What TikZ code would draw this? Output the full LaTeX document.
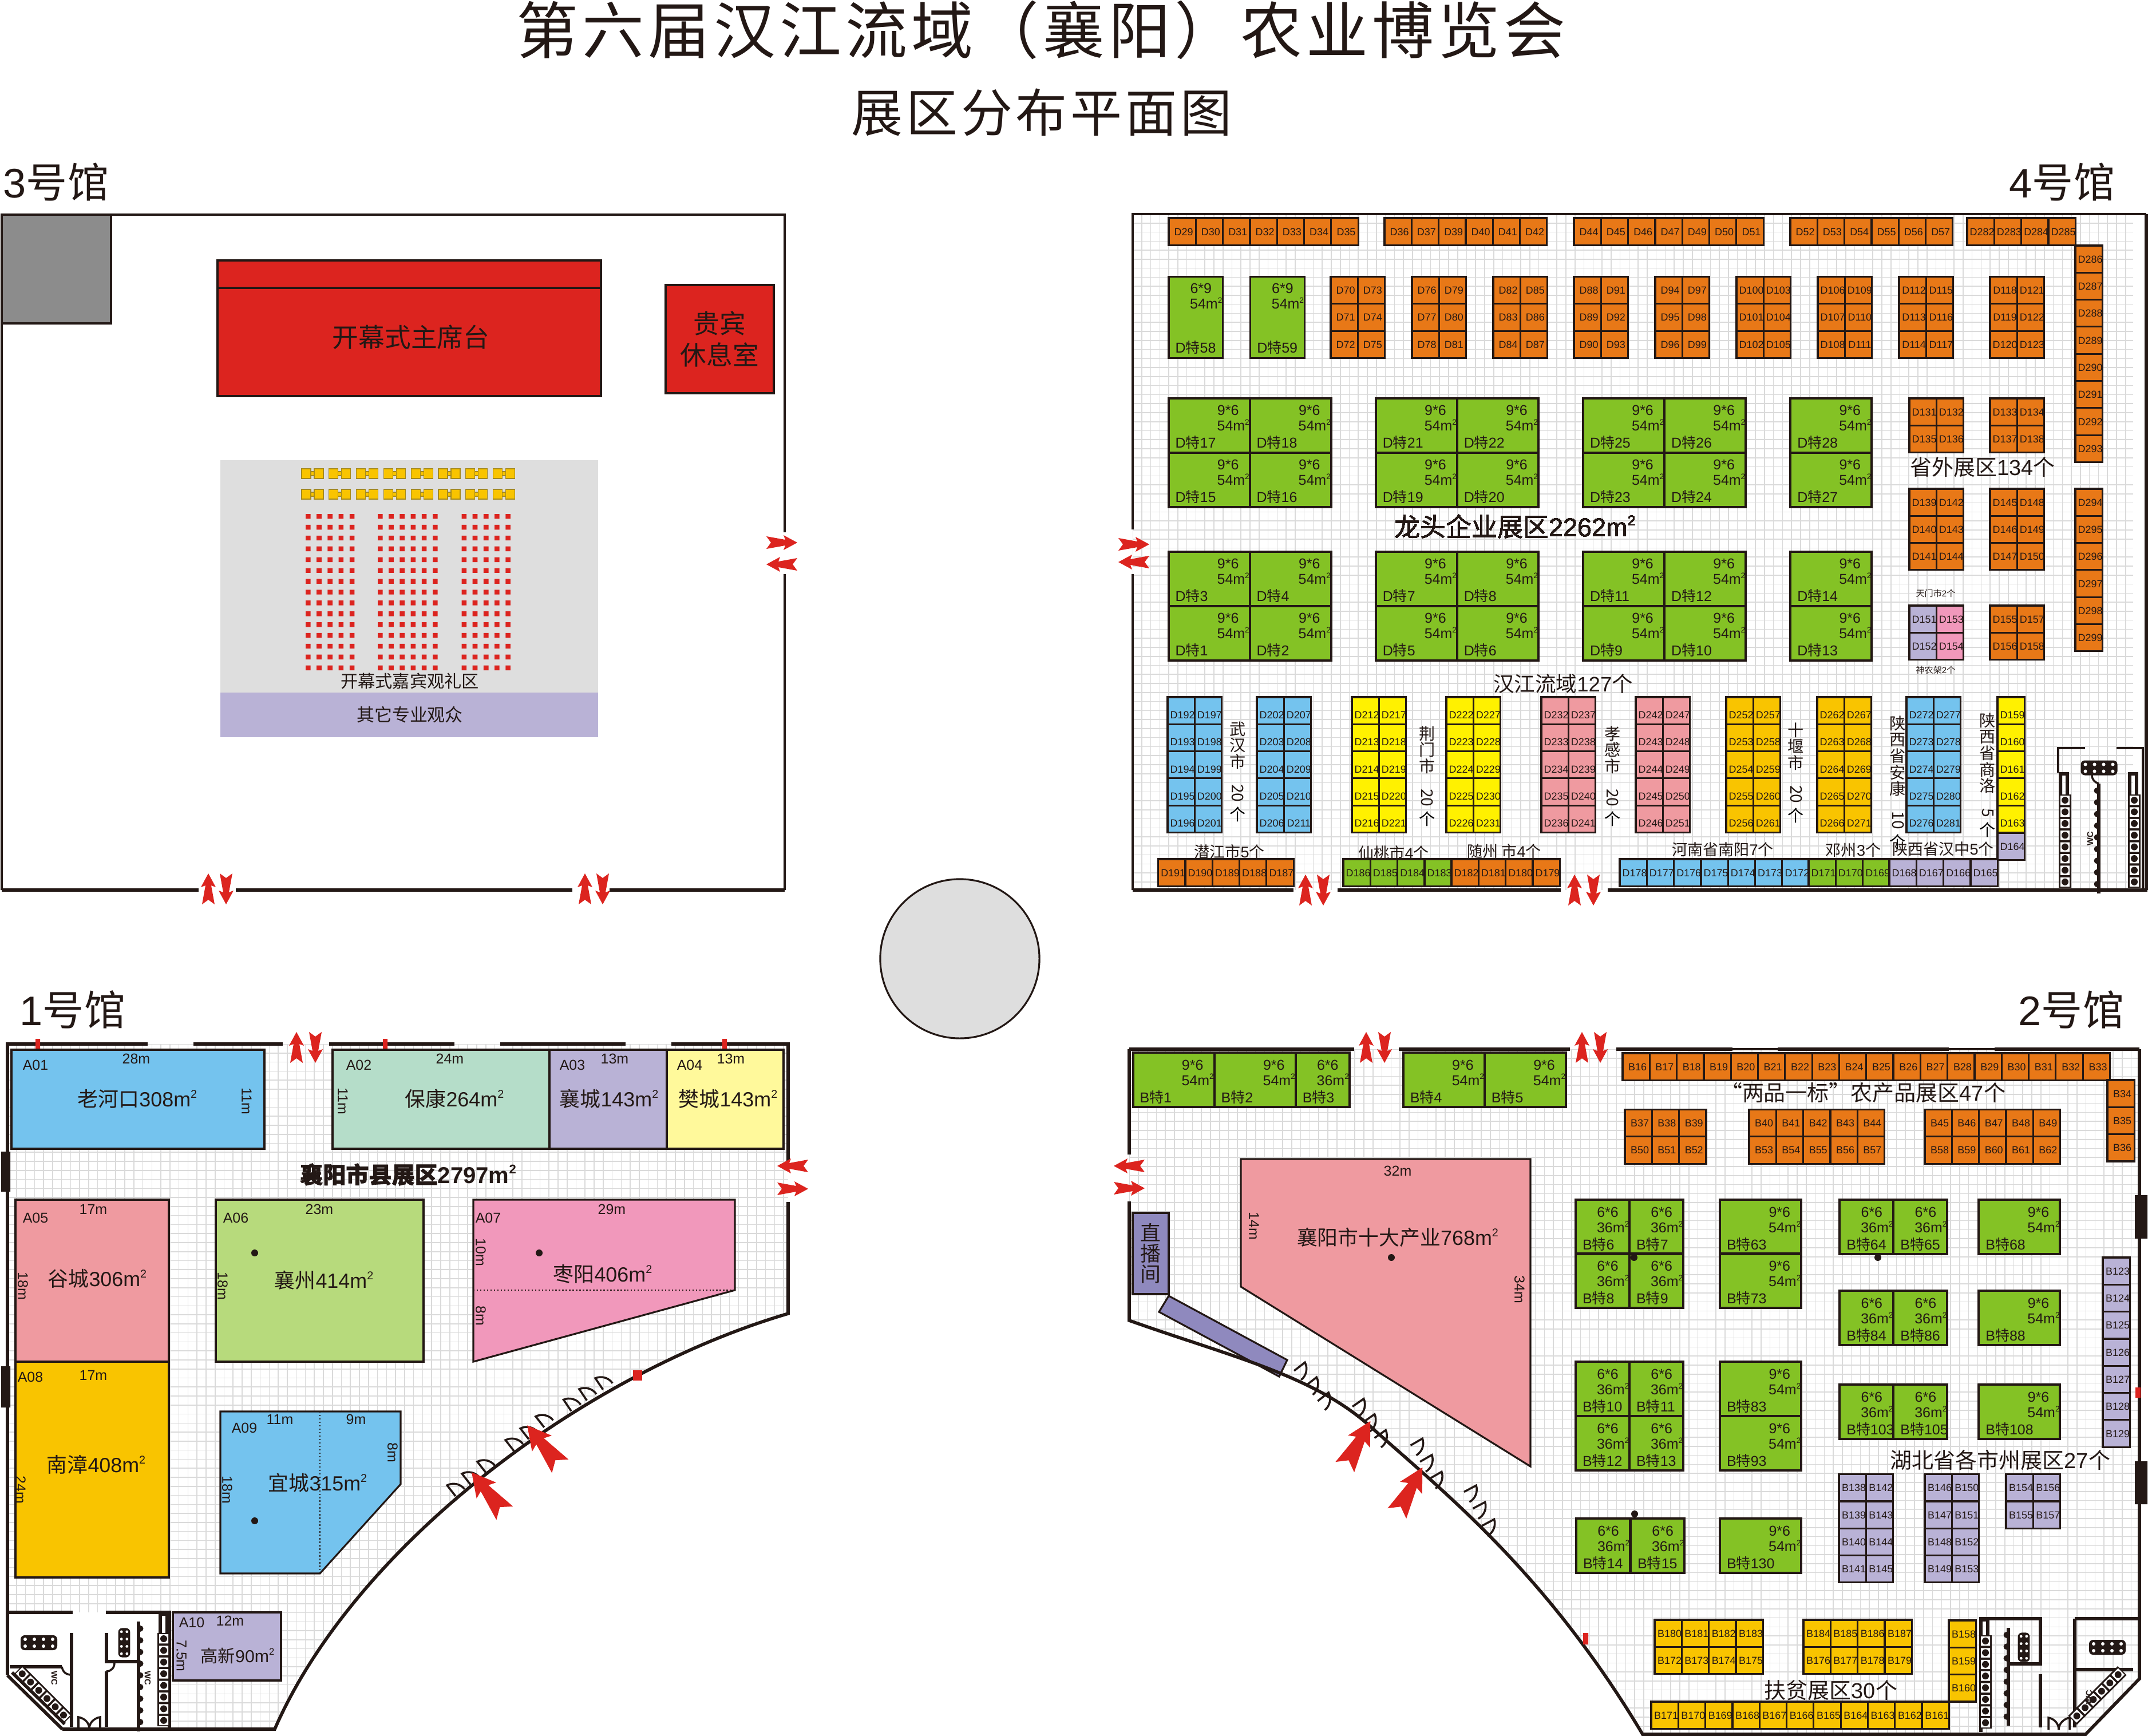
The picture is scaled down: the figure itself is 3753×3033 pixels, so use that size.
\documentclass[tikz,border=0pt]{standalone}
\usepackage{fontspec}
\usepackage{graphicx}
\setmainfont{Liberation Sans}
\newfontfamily\cjk{Noto Sans CJK SC}
\newfontfamily\cjkbold[FakeBold=1.6]{Noto Sans CJK SC}
\newfontfamily\titlefont[LetterSpace=6.5]{Noto Sans CJK SC}
\newcommand{\te}{{\cjk 特}}
\newcommand{\sq}{\raisebox{0.42em}{\scalebox{0.55}{2}}}
\newcommand{\sqg}{\raise2.9pt\hbox{\fontsize{3.9}{4}\selectfont 2}}
\newcommand{\tightspaces}{\spaceskip=0.001pt\relax}
\newdimen\pxunit \pxunit=0.28453pt
\newcounter{boothno}
\newcommand{\clab}[3]{\rlap{\kern#1\pxunit\raise-#2\pxunit\hbox to 0pt{\hss#3\hss}}}
\newcommand{\llab}[3]{\rlap{\kern#1\pxunit\raise-#2\pxunit\hbox{#3}}}
\definecolor{inkline}{HTML}{231815}
\definecolor{boothorange}{HTML}{E87817}
\definecolor{boothgreen}{HTML}{84C225}
\definecolor{boothblue}{HTML}{74C3EE}
\definecolor{boothyellow}{HTML}{FFF100}
\definecolor{boothpink}{HTML}{EF9AA0}
\definecolor{boothrose}{HTML}{F198BB}
\definecolor{boothgold}{HTML}{F9C400}
\definecolor{boothpurple}{HTML}{B9B2D6}
\definecolor{studio}{HTML}{8F89BE}
\definecolor{mint}{HTML}{B5DDC9}
\definecolor{paleyellow}{HTML}{FFF99B}
\definecolor{leaf}{HTML}{B7DA7C}
\definecolor{stagered}{HTML}{DC241F}
\definecolor{floorgray}{HTML}{DEDEDE}
\definecolor{cornergray}{HTML}{8C8C8C}
\definecolor{gridgray}{HTML}{DADADA}
\definecolor{chairedge}{HTML}{A58A1E}
\tikzset{
  wall/.style={draw=inkline,line width=1.6pt},
  wallthin/.style={draw=inkline,line width=1pt},
  hallgrid/.style={draw=gridgray,line width=0.45pt},
  block/.style={draw=inkline,line width=0.9pt},
  boothlabels/.style={inner sep=0pt,anchor=base west,font=\fontsize{5.1}{6}\selectfont\tightspaces},
  greenlabels/.style={inner sep=0pt,anchor=base west,font=\fontsize{7.1}{8}\selectfont\tightspaces},
  plain/.style={inner sep=0pt,scale=#1},
  dimtext/.style={plain=0.71},
  areatext/.style={plain=1.02},
  zonetext/.style={plain=1.08},
  tinytext/.style={plain=0.77},
  halltext/.style={plain=2.05},
  vtext/.style={plain=0.8,align=center,anchor=north,font=\fontsize{10}{10.2}\selectfont\cjk},
  gate/.pic={\fill[stagered] (27,0) -- (3,-13) -- (6,-5) -- (-27,-11) -- (-19,0) -- (-27,11) -- (6,5) -- (3,13) -- cycle;},
  doors/.pic={
    \draw[wallthin] (-47,0) -- (-47,-24) .. controls (-36,-22) and (-27,-12) .. (-27,0)
      (-14,0) -- (-14,-24) .. controls (-3,-22) and (6,-12) .. (6,0)
      (20,0) -- (20,-24) .. controls (31,-22) and (40,-12) .. (40,0);},
  sinks/.pic={
    \fill[inkline,rounded corners=2pt] (-32,-13) rectangle (32,13);
    \fill[white] \foreach \sx in {-24,-8,8,24} {\foreach \sy in {-6,6} {(\sx,\sy) circle[radius=3]}};}
}
% floor grid
\newcommand{\floorgrid}[4]{
  \draw[hallgrid] \foreach \gv in {0,...,111} {({#1+15.77*\gv},#2) -- ({#1+15.77*\gv},#4)};
  \draw[hallgrid] \foreach \gv in {0,...,76} {(#1,{#2+15.77*\gv}) -- (#3,{#2+15.77*\gv})};
}
% row by row
\newcommand{\stalls}[6][6.5]{
  \draw[block,fill=#5] \foreach \lbl [count=\i from 0] in {#6} {({#2+47.3*mod(\i,#4)},{#3+47.3*int(\i/#4)}) rectangle ++(47.3,47.3)};
  \stepcounter{boothno}
  \node[boothlabels] (cells\theboothno) at (#2,#3) {%
    \foreach \lbl [count=\i from 0] in {#6} {%
      \pgfmathsetmacro{\bx}{23.6+47.3*mod(\i,#4)}%
      \pgfmathsetmacro{\by}{23.6+#1+47.3*int(\i/#4)}%
      \clab{\bx}{\by}{\lbl}}%
  };
}
% two columns, numbered downwards
\newcommand{\colgroup}[7][6.5]{
  \draw[block,fill=#4] \foreach \r in {1,...,#7} {({#2},{#3+47.3*(\r-1)}) rectangle ++(47.3,47.3) ({#2+47.3},{#3+47.3*(\r-1)}) rectangle ++(47.3,47.3)};
  \stepcounter{boothno}
  \node[boothlabels] (cells\theboothno) at ({#2},{#3}) {%
    \foreach \r in {1,...,#7} {%
      \pgfmathtruncatemacro{\na}{#6+\r-1}%
      \pgfmathtruncatemacro{\nb}{#6+#7+\r-1}%
      \pgfmathsetmacro{\by}{23.6+#1+47.3*(\r-1)}%
      \clab{23.6}{\by}{#5\na}\clab{70.9}{\by}{#5\nb}}%
  };
}
% green booths: width, height, size, area, letter, x/y/number list
\newcommand{\gbooths}[6]{
  \draw[block,fill=boothgreen] \foreach \gx/\gy/\num in {#6} {(\gx,\gy) rectangle ++(#1,#2)};
  \stepcounter{boothno}
  \node[greenlabels] (cells\theboothno) at (0,0) {%
    \foreach \gx/\gy/\num in {#6} {%
      \pgfmathsetmacro{\ax}{\gx+#1-42}\pgfmathsetmacro{\ay}{\gy+29}\clab{\ax}{\ay}{#3}%
      \pgfmathsetmacro{\ax}{\gx+#1-33}\pgfmathsetmacro{\ay}{\gy+56}\clab{\ax}{\ay}{#4m\sqg}%
      \pgfmathsetmacro{\ax}{\gx+8}\pgfmathsetmacro{\ay}{\gy+#2-9}\llab{\ax}{\ay}{#5\te\num}}%
  };
}
\newcommand{\toiletcol}[3]{
  \fill[inkline] (#1,#2) rectangle ({#1+22},{#2+20.4*#3});
  \fill[white] \foreach \k in {1,...,#3} {({#1+3},{#2+20.4*(\k-1)+2}) rectangle ++(16,16.4)};
  \fill[inkline] \foreach \k in {1,...,#3} {({#1+11},{#2+20.4*(\k-1)+10}) circle[radius=6]};
}
\newcommand{\urinals}[4]{
  \draw[wall] (#1,#2) -- (#1,{#2+20.4*#3+8});
  \fill[inkline] \foreach \k in {1,...,#3} {({#1+#4},{#2+20.4*\k-8}) circle[radius=5.5]};
}
\begin{document}
\begin{tikzpicture}[x=0.01cm,y=-0.01cm]
  \color{inkline}
  \useasboundingbox (0,0) rectangle (3753,3033);
  % titles
  \node[plain=3.07,font=\titlefont] (title) at (1819,52) {第六届汉江流域（襄阳）农业博览会};
  \node[plain=2.56,font=\titlefont] (subtitle) at (1820,196) {展区分布平面图};
  \node[halltext] (hall3) at (98,318) {3{\cjk 号馆}};
  \node[halltext] (hall4) at (3603,318) {4{\cjk 号馆}};
  \node[halltext] (hall1) at (127,1764) {1{\cjk 号馆}};
  \node[halltext] (hall2) at (3619,1764) {2{\cjk 号馆}};
  \node[circle,draw=inkline,line width=0.9pt,fill=floorgray,minimum size=2.78cm,inner sep=0pt] (plaza) at (1677,1675) {};

  % hall 3
  \fill[cornergray] (3,375) rectangle (194,565);
  \draw[block] (3,375) rectangle (194,565);
  \draw[block,fill=stagered] (380,455) rectangle (1050,692);
  \draw[block] (380,503) -- (1050,503);
  \node[plain=1.3,font=\cjk] (stage) at (718,589) {开幕式主席台};
  \draw[block,fill=stagered] (1163,498) rectangle (1352,687);
  \node[plain=1.3,align=center,font=\cjk] (vip) at (1257.5,592.5) {贵宾\\休息室};
  \fill[floorgray] (385,804) rectangle (1045,1210);
  \fill[boothpurple] (385,1210) rectangle (1045,1288);
  \draw[draw=chairedge,fill=boothgold,line width=0.3pt] \foreach \i in {0,...,7} {\foreach \y in {819,855} {
    ({527+47.8*\i+16},{\y+5}) rectangle ++(6,7) ({527+47.8*\i},\y) rectangle ++(16,17) ({527+47.8*\i+22},\y) rectangle ++(16,17)}};
  \fill[stagered] \foreach \sx/\sn in {534/4,660/5,806.5/4} {\foreach \c in {0,...,\sn} {\foreach \r in {0,...,14}
    {({\sx+19.2*\c},{898+18.9*\r}) rectangle ++(8.6,8.4)}}};
  \node[plain=0.86,font=\cjk] (guests) at (716,1190) {开幕式嘉宾观礼区};
  \node[plain=0.88,font=\cjk] (others) at (716,1249) {其它专业观众};
  \draw[wallthin] (1371,1003) -- (1371,1555);
  \draw[wallthin] (1371,930) -- (1371,375) -- (3,375) -- (3,1555);
  \draw[wall] (3,1555) -- (347,1555) (412,1555) -- (1000,1555) (1065,1555) -- (1371,1555);
  \pic at (1366,948) {gate};
  \pic[rotate=180] at (1366,986) {gate};
  \foreach \gx in {364,1022} \pic[rotate=90] at (\gx,1553) {gate};
  \foreach \gx in {395,1053} \pic[rotate=-90] at (\gx,1553) {gate};

  % hall 4
  \begin{scope}
    \clip (1979,374) rectangle (3727,1555);
    \floorgrid{1979}{374}{3727}{1555}
  \end{scope}
  \stalls{2042}{381}{7}{boothorange}{D29,D30,D31,D32,D33,D34,D35}
  \stalls{2419}{381}{6}{boothorange}{D36,D37,D39,D40,D41,D42}
  \stalls{2750}{381}{7}{boothorange}{D44,D45,D46,D47,D49,D50,D51}
  \stalls{3128}{381}{6}{boothorange}{D52,D53,D54,D55,D56,D57}
  \stalls{3437}{381}{4}{boothorange}{D282,D283,D284,D285}
  \stalls{3626}{429}{1}{boothorange}{D286,D287,D288,D289,D290,D291,D292,D293}
  \stalls{3626}{854}{1}{boothorange}{D294,D295,D296,D297,D298,D299}
  \foreach \hx/\hnum in {2325/70,2467/76,2609/82,2750/88,2892/94,3034/100,3176/106,3318/112,3477/118}
    \colgroup{\hx}{483.5}{boothorange}{D}{\hnum}{3}
  \gbooths{94.6}{142}{6*9}{54}{D}{2042/483.5/58,2184.6/483.5/59}
  \gbooths{142}{95}{9*6}{54}{D}{2042/696/17,2184/696/18,2404/696/21,2546/696/22,2766/696/25,2908/696/26,3128/696/28,
    2042/791/15,2184/791/16,2404/791/19,2546/791/20,2766/791/23,2908/791/24,3128/791/27,
    2042/964/3,2184/964/4,2404/964/7,2546/964/8,2766/964/11,2908/964/12,3128/964/14,
    2042/1059/1,2184/1059/2,2404/1059/5,2546/1059/6,2766/1059/9,2908/1059/10,3128/1059/13}
  \stalls{3336}{696}{2}{boothorange}{D131,D132,D135,D136}
  \stalls{3477}{696}{2}{boothorange}{D133,D134,D137,D138}
  \colgroup{3336}{854}{boothorange}{D}{139}{3}
  \colgroup{3477}{854}{boothorange}{D}{145}{3}
  \stalls{3336}{1058}{1}{boothpurple}{D151,D152}
  \stalls{3383.3}{1058}{1}{boothrose}{D153,D154}
  \colgroup{3477}{1058}{boothorange}{D}{155}{2}
  \foreach \hx/\colr/\hnum in {2040/boothblue/192,2196/boothblue/202,2362/boothyellow/212,2527/boothyellow/222,
    2693/boothpink/232,2858/boothpink/242,3016/boothgold/252,3175/boothgold/262,3331/boothblue/272}
    \colgroup[14]{\hx}{1218}{\colr}{D}{\hnum}{5}
  \stalls[14]{3490}{1218}{1}{boothyellow}{D159,D160,D161,D162,D163}
  \stalls{3490}{1455}{1}{boothpurple}{D164}
  \stalls{2023.6}{1501}{5}{boothorange}{D191,D190,D189,D188,D187}
  \stalls{2347}{1501}{4}{boothgreen}{D186,D185,D184,D183}
  \stalls{2536}{1501}{4}{boothorange}{D182,D181,D180,D179}
  \stalls{2830}{1501}{7}{boothblue}{D178,D177,D176,D175,D174,D173,D172}
  \stalls{3160}{1501}{3}{boothgreen}{D171,D170,D169}
  \stalls{3301}{1501}{4}{boothpurple}{D168,D167,D166,D165}
  % hall 4 labels
  \node[plain=1.28] (dragon) at (2647,920) {{\cjk 龙头企业展区}2262m\sq};
  \node[plain=1.04] (hanjiang) at (2731,1195) {{\cjk 汉江流域}127{\cjk 个}};
  \node[zonetext] (outer) at (3464,816) {{\cjk 省外展区}134{\cjk 个}};
  \node[plain=0.43] (tianmen) at (3382,1037) {{\cjk 天门市}2{\cjk 个}};
  \node[plain=0.43] (shennong) at (3382,1171) {{\cjk 神农架}2{\cjk 个}};
  \node[tinytext] (qianjiang) at (2148,1488) {{\cjk 潜江市}5{\cjk 个}};
  \node[tinytext] (xiantao) at (2435,1490) {{\cjk 仙桃市}4{\cjk 个}};
  \node[tinytext] (suizhou) at (2628,1487) {{\cjk 随州 市}4{\cjk 个}};
  \node[tinytext] (nanyang) at (3010,1484) {{\cjk 河南省南阳}7{\cjk 个}};
  \node[tinytext] (dengzhou) at (3238,1485) {{\cjk 邓州}3{\cjk 个}};
  \node[tinytext] (hanzhong) at (3395,1483) {{\cjk 陕西省汉中}5{\cjk 个}};
  \node[vtext] (wuhan) at (2163,1260) {武\\汉\\市\\\rotatebox{-90}{20}\\[2pt]个};
  \node[vtext] (jingmen) at (2494,1268) {荆\\门\\市\\\rotatebox{-90}{20}\\[2pt]个};
  \node[vtext] (xiaogan) at (2818,1268) {孝\\感\\市\\\rotatebox{-90}{20}\\[2pt]个};
  \node[vtext] (shiyan) at (3138,1262) {十\\堰\\市\\\rotatebox{-90}{20}\\[2pt]个};
  \node[vtext] (ankang) at (3316,1250) {陕\\西\\省\\安\\康\\\rotatebox{-90}{10}\\[2pt]个};
  \node[vtext] (shangluo) at (3473,1245) {陕\\西\\省\\商\\洛\\\rotatebox{-90}{5}\\[2pt]个};
  % hall 4 toilets
  \draw[wallthin] (3596,1350) -- (3596,1307) -- (3643,1307) (3698,1307) -- (3744,1307) -- (3744,1553);
  \pic at (3667.5,1341.5) {sinks};
  \toiletcol{3597}{1388}{8}
  \toiletcol{3718}{1388}{8}
  \draw[wall] (3600,1388) -- (3600,1352) -- (3612,1352) -- (3612,1388);
  \draw[wall] (3721,1388) -- (3721,1352) -- (3733,1352) -- (3733,1388);
  \draw[wallthin] (3655,1354) .. controls (3655,1362) and (3660,1367) .. (3667,1369);
  \urinals{3667}{1369}{9}{-3}
  \node[plain=0.42,rotate=90,font=\bfseries] (wcfour) at (3652,1465) {WC};
  \draw[wallthin] (1979,925) -- (1979,374) -- (3750,374);
  \draw[wallthin] (1979,1003) -- (1979,1555);
  \draw[wall] (3750,374) -- (3750,1555);
  \draw[wall] (1979,1555) -- (2260,1555) (2337,1555) -- (2727,1555) (2809,1555) -- (3752,1555);
  \pic at (1981,951) {gate};
  \pic[rotate=180] at (1981,982) {gate};
  \foreach \gx in {2281,2751} \pic[rotate=90] at (\gx,1555) {gate};
  \foreach \gx in {2312,2784} \pic[rotate=-90] at (\gx,1555) {gate};

  % hall 1
  \begin{scope}
    \clip (13,1824) -- (1377,1824) -- (1377,2295) .. controls (1020,2400) and (620,2700) .. (480,3021) -- (109,3021) -- (13,2927) -- cycle;
    \floorgrid{13}{1824}{1377}{3021}
    \fill[white] (13,2817) rectangle (296,3021);
  \end{scope}
  \draw[block,fill=boothblue] (20,1834) rectangle (462,2007);
  \draw[block,fill=mint] (581,1834) rectangle (960,2007);
  \draw[block,fill=boothpurple] (960,1834) rectangle (1165,2007);
  \draw[block,fill=paleyellow] (1165,1834) rectangle (1369,2007);
  \draw[block,fill=boothpink] (27,2096) rectangle (295,2379);
  \draw[block,fill=boothgold] (27,2379) rectangle (295,2756);
  \draw[block,fill=leaf] (377,2096) rectangle (740,2379);
  \draw[block,fill=boothrose] (827,2096) -- (1284,2096) -- (1284,2254) -- (827,2379) -- cycle;
  \draw[densely dotted,draw=inkline,line width=0.7pt] (827,2254) -- (1284,2254);
  \draw[block,fill=boothblue] (385,2466) -- (700,2466) -- (700,2593) -- (559,2749) -- (385,2749) -- cycle;
  \draw[densely dotted,draw=inkline,line width=0.7pt] (559,2466) -- (559,2749);
  \draw[block,fill=boothpurple] (302,2817) rectangle (491,2936);
  \foreach \nm/\dx/\dy/\txt in {ida01/62/1861/A01,wa01/238/1850/28m,ida02/627/1861/A02,wa02/786/1850/24m,ida03/1000/1861/A03,wa03/1074/1850/13m,
    ida04/1205/1861/A04,wa04/1277/1850/13m,ida05/62/2128/A05,wa05/163/2113/17m,ida06/412/2128/A06,wa06/558/2113/23m,ida07/853/2128/A07,wa07/1069/2113/29m,
    ida08/53/2406/A08,wa08/163/2403/17m,ida09/427/2495/A09,wa09/489/2480/11m,wb09/622/2480/9m,ida10/335/2835/A10,wa10/402/2832/12m}
    \node[dimtext] (\nm) at (\dx,\dy) {\txt};
  \foreach \nm/\dx/\dy/\txt in {ha01/431/1924/11m,ha02/599/1924/11m,ha05/40/2247/18m,ha06/389/2247/18m,ha07/840/2188/10m,hb07/840/2299/8m,
    ha08/36/2603/24m,ha09/397/2603/18m,hb09/686/2538/8m,ha10/317/2893/7.5m}
    \node[dimtext,rotate=-90] (\nm) at (\dx,\dy) {\txt};
  \node[areatext] (laohekou) at (240,1920) {{\cjk 老河口}308m\sq};
  \node[areatext] (baokang) at (794,1920) {{\cjk 保康}264m\sq};
  \node[areatext] (xiangcheng) at (1064,1920) {{\cjk 襄城}143m\sq};
  \node[areatext] (fancheng) at (1272,1920) {{\cjk 樊城}143m\sq};
  \node[areatext] (gucheng) at (170,2234) {{\cjk 谷城}306m\sq};
  \node[areatext] (xiangzhou) at (566,2237) {{\cjk 襄州}414m\sq};
  \node[areatext] (zaoyang) at (1053,2226) {{\cjk 枣阳}406m\sq};
  \node[areatext] (nanzhang) at (168,2559) {{\cjk 南漳}408m\sq};
  \node[areatext] (yicheng) at (555,2591) {{\cjk 宜城}315m\sq};
  \node[plain=0.86] (gaoxin) at (415,2893) {{\cjk 高新}90m\sq};
  \node[plain=1.14,font=\bfseries] (xiangyang) at (713,2052) {{\cjkbold 襄阳市县展区}2797m\sq};
  \fill[inkline] \foreach \dx/\dy in {445/2189,942/2189,445/2657} {(\dx,\dy) circle[radius=6]};
  % hall 1 toilets
  \draw[wall] (13,2817) -- (127,2817) (185,2817) -- (296,2817) -- (296,3021);
  \draw[wall] (125,2853) -- (125,3017) (186,2853) -- (186,2903) -- (242,2903) (186,2920) -- (186,3017) (17,2912) -- (108,2912);
  \pic at (68,2870) {sinks};
  \pic[rotate=90,scale=0.8] at (217,2870) {sinks};
  \urinals{242}{2833}{9}{3}
  \toiletcol{275}{2853}{8}
  \draw[wall] (280,2853) -- (280,2820) -- (292,2820) -- (292,2853);
  \begin{scope}[shift={(24,2925)},rotate=45]
    \toiletcol{0}{0}{6}
  \end{scope}
  \draw[wallthin] (137,3020) -- (137,3000) .. controls (148,3002) and (156,3010) .. (156,3020) .. controls (156,3010) and (164,3002) .. (175,3000) -- (175,3020);
  \draw[wallthin] (108,2912) .. controls (110,2922) and (116,2926) .. (125,2926);
  \draw[wallthin] (186,2920) .. controls (194,2920) and (200,2914) .. (200,2905);
  \node[plain=0.42,rotate=-90,font=\bfseries] (wcone) at (95,2932) {WC};
  \node[plain=0.42,rotate=-90,font=\bfseries] (wconeb) at (258,2932) {WC};
  % hall 1 walls
  \draw[wall] (13,2927) -- (13,1824) -- (258,1824) (338,1824) -- (494,1824) (575,1824) -- (794,1824) (874,1824) -- (1093,1824) (1173,1824) -- (1377,1824) -- (1377,2028);
  \draw[wall] (1377,2100) -- (1377,2295) .. controls (1020,2400) and (620,2700) .. (480,3021) -- (109,3021);
  \draw[wall] (13,2927) -- (109,3021) (21,2922) -- (113,3012);
  \fill[inkline] (2,2012) rectangle (18,2082) (2,2387) rectangle (18,2459);
  \fill[stagered] (1106,2394) rectangle ++(16,18);
  \fill[stagered] \foreach \gx in {66,673,1266} {(\gx-4,1815) rectangle ++(8,17)};
  \pic[rotate=38] at (833,2585) {doors};
  \pic[rotate=38] at (935,2506) {doors};
  \pic[rotate=34] at (1037,2439) {doors};
  \pic[rotate=90] at (518,1830) {gate};
  \pic[rotate=-90] at (551,1830) {gate};
  \pic[rotate=180] at (1385,2037) {gate};
  \pic at (1385,2077) {gate};
  \pic[rotate=129,scale=1.7] at (853,2608) {gate};
  \pic[rotate=129,scale=1.7] at (950,2526) {gate};

  % hall 2
  \begin{scope}
    \clip (1973,1833) -- (3738,1833) -- (3738,2933) -- (3644,3030) -- (2870,3030) .. controls (2700,2745) and (2520,2605) .. (2393,2491) .. controls (2293,2402) and (2150,2370) .. (1973,2307) -- cycle;
    \floorgrid{1973}{1833}{3738}{3030}
  \end{scope}
  \gbooths{142}{95}{9*6}{54}{B}{1980/1839/1,2122/1839/2,2452/1839/4,2594/1839/5,3005/2096/63,3005/2190/73,3457/2096/68,3457/2255/88,3457/2419/108,3005/2379/83,3005/2474/93,3005/2653/130}
  \gbooths{94}{95}{6*6}{36}{B}{2264/1839/3,2753/2096/6,2847/2096/7,2753/2190/8,2847/2190/9,3214/2096/64,3308/2096/65,
    3214/2255/84,3308/2255/86,3214/2419/103,3308/2419/105,2753/2379/10,2847/2379/11,2753/2474/12,2847/2474/13,2754/2653/14,2849/2653/15}
  \stalls{2835}{1840}{18}{boothorange}{B16,B17,B18,B19,B20,B21,B22,B23,B24,B25,B26,B27,B28,B29,B30,B31,B32,B33}
  \stalls{3682}{1887}{1}{boothorange}{B34,B35,B36}
  \stalls{2839}{1938.5}{3}{boothorange}{B37,B38,B39,B50,B51,B52}
  \stalls{3056}{1938.5}{5}{boothorange}{B40,B41,B42,B43,B44,B53,B54,B55,B56,B57}
  \stalls{3363}{1938.5}{5}{boothorange}{B45,B46,B47,B48,B49,B58,B59,B60,B61,B62}
  \draw[block,fill=boothpink] (2168,2025) -- (2674,2025) -- (2674,2562) -- (2168,2248) -- cycle;
  \node[dimtext] (wb32) at (2442,2046) {32m};
  \node[dimtext,rotate=-90] (hb14) at (2191,2142) {14m};
  \node[dimtext,rotate=-90] (hb34) at (2655,2253) {34m};
  \node[areatext] (topten) at (2442,2162) {{\cjk 襄阳市十大产业}768m\sq};
  \draw[block,fill=studio] (1979,2119) rectangle (2042,2261);
  \node[plain=1.02,align=center,font=\fontsize{10}{10}\selectfont\cjk] (studio) at (2010.5,2190) {直\\播\\间};
  \draw[block,fill=studio] (2042,2264) -- (2249,2376) -- (2235,2405) -- (2025,2292) -- cycle;
  \fill[inkline] \foreach \dx/\dy in {2431/2197,2855/2197,3281/2197,2856/2645} {(\dx,\dy) circle[radius=6]};
  \stalls{3674}{2197}{1}{boothpurple}{B123,B124,B125,B126,B127,B128,B129}
  \colgroup{3213}{2575.6}{boothpurple}{B}{138}{4}
  \colgroup{3363}{2575.6}{boothpurple}{B}{146}{4}
  \colgroup{3505}{2575.6}{boothpurple}{B}{154}{2}
  \stalls{2891}{2830}{4}{boothgold}{B180,B181,B182,B183,B172,B173,B174,B175}
  \stalls{3151}{2830}{4}{boothgold}{B184,B185,B186,B187,B176,B177,B178,B179}
  \stalls{3405}{2831}{1}{boothgold}{B158,B159,B160}
  \stalls{2885}{2973}{11}{boothgold}{B171,B170,B169,B168,B167,B166,B165,B164,B163,B162,B161}
  \node[zonetext] (twoproducts) at (3255,1909) {{\cjk “两品一标”农产品展区}47{\cjk 个}};
  \node[zonetext] (hubei) at (3495,2551) {{\cjk 湖北省各市州展区}27{\cjk 个}};
  \node[zonetext] (poverty) at (3199,2953) {{\cjk 扶贫展区}30{\cjk 个}};
  % hall 2 toilets
  \draw[wall] (3461,3026) -- (3461,2828) -- (3565,2828) -- (3565,2907) -- (3509,2907);
  \draw[wall] (3625,2828) -- (3736,2828) (3625,2828) -- (3625,3018) (3625,2917) -- (3727,2917) (3565,2925) -- (3565,3018);
  \pic[rotate=90,scale=0.8] at (3536,2878) {sinks};
  \pic at (3682,2878) {sinks};
  \toiletcol{3458}{2857}{8}
  \draw[wall] (3461,2857) -- (3461,2830) -- (3473,2830) -- (3473,2857);
  \urinals{3509}{2844}{8}{-3}
  \begin{scope}[shift={(3700,2911)},rotate=-45]
    \toiletcol{0}{0}{6}
  \end{scope}
  \draw[wallthin] (3579,3022) -- (3579,3001) .. controls (3590,3003) and (3597,3012) .. (3597,3022) .. controls (3597,3012) and (3605,3003) .. (3616,3001) -- (3616,3022);
  \node[plain=0.42,rotate=90,font=\bfseries] (wctwo) at (3650,2965) {WC};
  % hall 2 walls
  \draw[wall] (1973,1833) -- (2366,1833) (2444,1833) -- (2743,1833) (2824,1833) -- (3027,1833) (3106,1833) -- (3405,1833) (3485,1833) -- (3738,1833);
  \draw[wallthin] (3027,1833) -- (3106,1833) (3405,1833) -- (3485,1833);
  \draw[wall] (1973,1833) -- (1973,2017) (1973,2099) -- (1973,2307) .. controls (2150,2370) and (2293,2402) .. (2393,2491) .. controls (2520,2605) and (2700,2745) .. (2870,3030) -- (3644,3030) -- (3738,2933) -- (3738,1833);
  \fill[inkline] (3730,2088) rectangle (3752,2164) (3730,2553) rectangle (3752,2628);
  \fill[stagered] (2766,2853) rectangle ++(9,20) (3731,2424) rectangle ++(9,18);
  \pic[rotate=-52] at (2290,2432) {doors};
  \pic[rotate=-55] at (2390,2496) {doors};
  \pic[rotate=-60] at (2488,2566) {doors};
  \pic[rotate=-62] at (2580,2648) {doors};
  \foreach \gx in {2387,2764} \pic[rotate=90] at (\gx,1830) {gate};
  \foreach \gx in {2419,2796} \pic[rotate=-90] at (\gx,1830) {gate};
  \pic[rotate=180] at (1973,2037) {gate};
  \pic at (1973,2076) {gate};
  \pic[rotate=61,scale=1.7] at (2372,2523) {gate};
  \pic[rotate=61,scale=1.7] at (2463,2604) {gate};
\end{tikzpicture}
\end{document}
